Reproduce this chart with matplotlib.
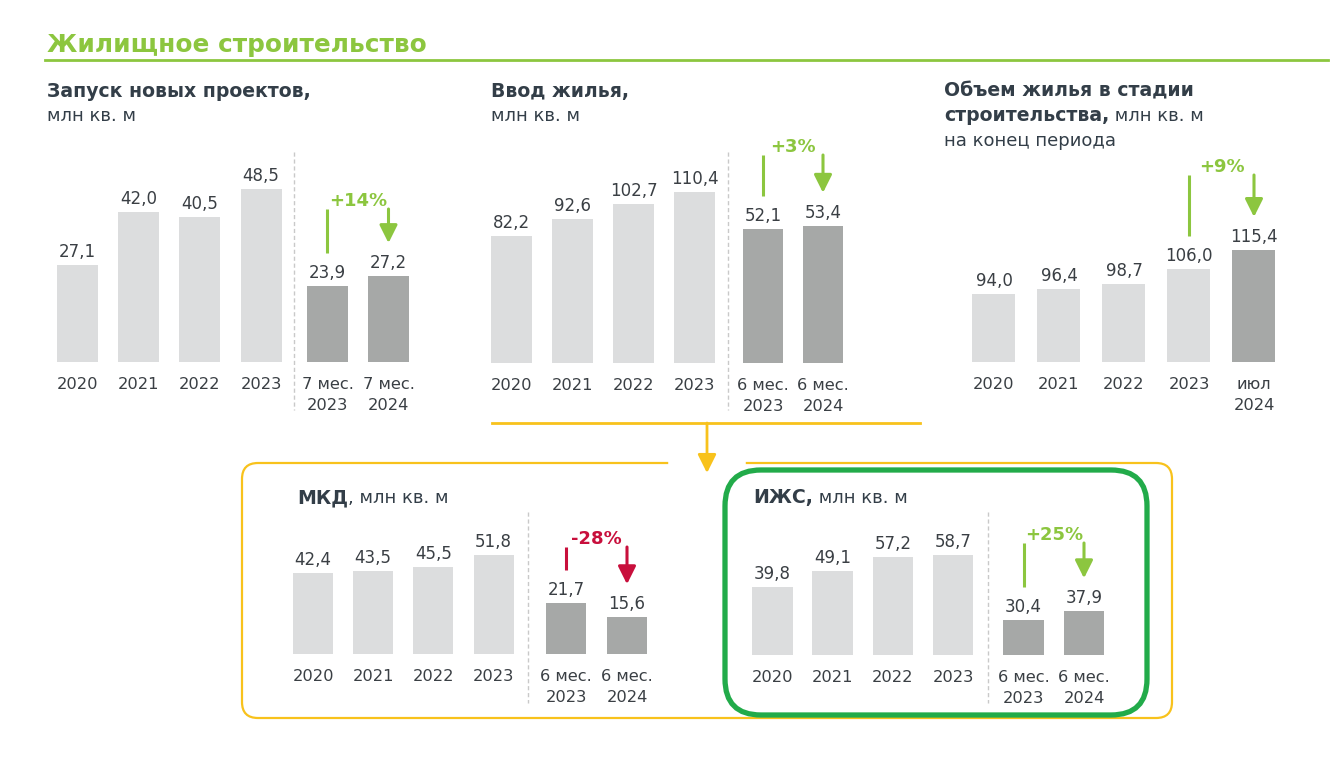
import matplotlib
matplotlib.use("Agg")
import matplotlib.pyplot as plt
from matplotlib.patches import FancyBboxPatch

W, H = 1341, 759

# --- data ---
year_labels = ["2020", "2021", "2022", "2023"]
launch_years = [27.1, 42.0, 40.5, 48.5]
launch_ytd = [23.9, 27.2]
launch_ytd_labels = [("7 мес.", "2023"), ("7 мес.", "2024")]
launch_change = "+14%"

commis_years = [82.2, 92.6, 102.7, 110.4]
commis_ytd = [52.1, 53.4]
commis_change = "+3%"

stock_labels = [("2020",), ("2021",), ("2022",), ("2023",), ("июл", "2024")]
stock_values = [94.0, 96.4, 98.7, 106.0, 115.4]
stock_change = "+9%"

half_labels = [("6 мес.", "2023"), ("6 мес.", "2024")]
mkd_years = [42.4, 43.5, 45.5, 51.8]
mkd_ytd = [21.7, 15.6]
mkd_change = "-28%"

izhs_years = [39.8, 49.1, 57.2, 58.7]
izhs_ytd = [30.4, 37.9]
izhs_change = "+25%"

LIGHT = "#dcddde"
DARK = "#a6a8a7"
GREEN = "#8cc63f"
BOXGREEN = "#22ab4a"
YELLOW = "#f8c21c"
RED = "#c80f3c"
TXT = "#3a3f44"
HEAD = "#333e48"
FONT = "DejaVu Sans"

plt.rcParams["font.family"] = FONT

fig = plt.figure(figsize=(W / 100, H / 100), dpi=100)
ov = fig.add_axes([0, 0, 1, 1])
ov.set_xlim(0, W)
ov.set_ylim(H, 0)
ov.axis("off")


def bar_group(values, labels, colors, c0, step, width, base, scale, ymin=0.0):
    # axes laid out so that one data unit = `scale` pixels
    n = len(values)
    left = c0 - step / 2
    right = c0 + (n - 1) * step + step / 2
    top = 300
    ax = fig.add_axes([left / W, (H - base) / H, (right - left) / W, top / H])
    ax.set_xlim(-0.5, n - 0.5)
    ax.set_ylim(ymin, ymin + top / scale)
    ax.patch.set_visible(False)
    ax.axis("off")
    ax.bar(range(n), [v - ymin for v in values], width=width / step,
           color=colors, bottom=ymin)
    for i, v in enumerate(values):
        ax.annotate(f"{v:.1f}".replace(".", ","), (i, v), xytext=(0, 8),
                    textcoords="offset pixels", ha="center", va="baseline",
                    fontsize=12, color=TXT)
        for k, line in enumerate(labels[i]):
            ax.annotate(line, (i, ymin), xytext=(0, -27 - 21 * k),
                        textcoords="offset pixels", ha="center", va="baseline",
                        fontsize=11.7, color=TXT)
    return ax


def px(ax, i, v):
    x, y = ax.transData.transform((i, v))
    return x, H - y


def change_arrow(ax1, i1, v1, ax2, i2, v2, top, text, color):
    x1, y1 = px(ax1, i1, v1)
    x2, y2 = px(ax2, i2, v2)
    ov.plot([x1, x1], [top, y1 - 33], color=color, lw=2.2, solid_capstyle="butt")
    ov.annotate("", xy=(x2, y2 - 33), xytext=(x2, top),
                arrowprops=dict(arrowstyle="-|>", color=color, lw=2.2,
                                mutation_scale=27, shrinkA=0, shrinkB=0))
    ov.text((x1 + x2) / 2, top - 3, text, ha="center", va="baseline",
            fontsize=13, fontweight="bold", color=color)


def divider(x, y0, y1):
    ov.plot([x, x], [y0, y1], color="#c9c9c9", lw=1, ls=(0, (3, 2)))


def title_pair(x, y, bold, rest, size=13.6):
    t = ov.text(x, y, bold, fontsize=size, fontweight="bold", color=HEAD, va="baseline")
    if rest:
        r = fig.canvas.get_renderer()
        w = t.get_window_extent(r).width
        ov.text(x + w, y, rest, fontsize=size - 0.6, color=HEAD, va="baseline")


# --- header ---
ov.text(47, 52, "Жилищное строительство", fontsize=17.8, fontweight="bold",
        color=GREEN, va="baseline")
ov.plot([45, 1328], [59.5, 59.5], color=GREEN, lw=2)

# --- panel 1: launches ---
title_pair(47, 97, "Запуск новых проектов,", "")
ov.text(47, 121, "млн кв. м", fontsize=13, color=HEAD, va="baseline")
a1 = bar_group(launch_years, [(y,) for y in year_labels], LIGHT, 77.5, 61.2, 41, 362, 3.57)
b1 = bar_group(launch_ytd, launch_ytd_labels, DARK, 327.5, 61, 41, 362, 3.16)
divider(294, 152, 410)
change_arrow(b1, 0, launch_ytd[0], b1, 1, launch_ytd[1], 209, launch_change, GREEN)

# --- panel 2: commissioning ---
title_pair(491, 97, "Ввод жилья,", "")
ov.text(491, 121, "млн кв. м", fontsize=13, color=HEAD, va="baseline")
a2 = bar_group(commis_years, [(y,) for y in year_labels], LIGHT, 511.5, 61, 41, 363, 1.55)
b2 = bar_group(commis_ytd, half_labels, DARK, 763, 60, 40, 363, 2.57)
divider(728, 152, 410)
change_arrow(b2, 0, commis_ytd[0], b2, 1, commis_ytd[1], 155, commis_change, GREEN)

# --- panel 3: under construction ---
title_pair(944, 96, "Объем жилья в стадии", "")
title_pair(944, 121, "строительства,", " млн кв. м")
ov.text(944, 146, "на конец периода", fontsize=13, color=HEAD, va="baseline")
stock_colors = [LIGHT] * (len(stock_values) - 1) + [DARK]
a3 = bar_group(stock_values, stock_labels, stock_colors, 994, 65, 43, 362, 2.056, ymin=60.9)
change_arrow(a3, 3, stock_values[3], a3, 4, stock_values[4], 175, stock_change, GREEN)

# --- connector from commissioning to breakdown ---
ov.plot([492, 920], [423, 423], color=YELLOW, lw=2)
ov.annotate("", xy=(707, 473), xytext=(707, 423),
            arrowprops=dict(arrowstyle="-|>", color=YELLOW, lw=2,
                            mutation_scale=28, shrinkA=0, shrinkB=0))
ybox = FancyBboxPatch((242, 463), 930, 255, boxstyle="round,pad=0,rounding_size=16",
                      fc="none", ec=YELLOW, lw=1.6)
ov.add_patch(ybox)
ov.plot([671, 743], [463, 463], color="white", lw=4)
gbox = FancyBboxPatch((725, 470), 422, 245, boxstyle="round,pad=0,rounding_size=36",
                      fc="none", ec=BOXGREEN, lw=3.8)
ov.add_patch(gbox)

# --- MKD ---
title_pair(297, 503, "МКД", ", млн кв. м")
a4 = bar_group(mkd_years, [(y,) for y in year_labels], LIGHT, 313, 60.2, 40, 654, 1.915)
b4 = bar_group(mkd_ytd, half_labels, DARK, 566, 61, 40, 654, 2.36)
divider(528, 512, 703)
change_arrow(b4, 0, mkd_ytd[0], b4, 1, mkd_ytd[1], 547, mkd_change, RED)

# --- IZHS ---
title_pair(753, 503, "ИЖС,", " млн кв. м")
a5 = bar_group(izhs_years, [(y,) for y in year_labels], LIGHT, 772.5, 60.2, 40.5, 655, 1.705)
b5 = bar_group(izhs_ytd, half_labels, DARK, 1023.5, 60.5, 40.5, 655, 1.155)
divider(988, 512, 703)
change_arrow(b5, 0, izhs_ytd[0], b5, 1, izhs_ytd[1], 543, izhs_change, GREEN)

fig.savefig("out.png", dpi=100)
